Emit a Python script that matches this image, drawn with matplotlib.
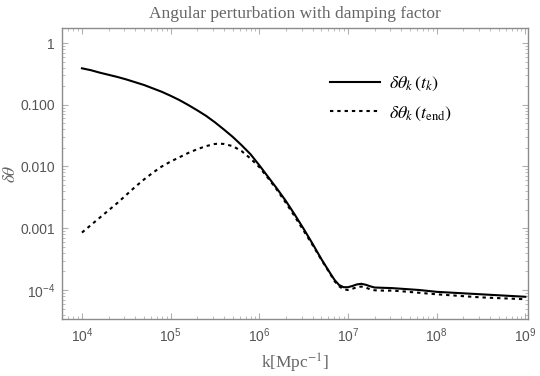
import numpy as np
import matplotlib
matplotlib.use("Agg")
import matplotlib.pyplot as plt
from matplotlib.ticker import LogLocator, FixedLocator, NullFormatter

# ---- data (log10 k, log10 delta theta) ----
logk_tk = [4.0, 4.1, 4.2, 4.3, 4.4, 4.5, 4.6, 4.7, 4.8, 4.9, 5.0, 5.1, 5.2,
           5.3, 5.4, 5.5, 5.6, 5.7, 5.8, 5.9, 6.0, 6.1, 6.2, 6.3, 6.4, 6.5,
           6.6, 6.7, 6.8, 6.85, 6.9, 6.95, 7.0, 7.05, 7.1, 7.15, 7.2, 7.25,
           7.3, 7.4, 7.5, 7.6, 7.8, 8.0, 8.25, 8.5, 8.75, 9.0]
logy_tk = [-0.41, -0.44, -0.48, -0.515, -0.55, -0.59, -0.635, -0.68, -0.735,
           -0.79, -0.855, -0.925, -1.005, -1.09, -1.18, -1.285, -1.40, -1.52,
           -1.655, -1.80, -1.98, -2.17, -2.36, -2.56, -2.78, -3.01, -3.25,
           -3.50, -3.73, -3.84, -3.92, -3.955, -3.955, -3.935, -3.91, -3.90,
           -3.915, -3.94, -3.96, -3.965, -3.97, -3.98, -4.00, -4.03, -4.05,
           -4.07, -4.09, -4.11]

logk_end = [4.0, 4.1, 4.2, 4.3, 4.4, 4.5, 4.6, 4.7, 4.8, 4.9, 5.0, 5.1, 5.2,
            5.3, 5.4, 5.5, 5.55, 5.6, 5.7, 5.8, 5.9, 6.0, 6.1, 6.2, 6.3, 6.4,
            6.5, 6.6, 6.7, 6.8, 6.85, 6.9, 6.95, 7.0, 7.05, 7.1, 7.15, 7.2,
            7.25, 7.3, 7.4, 7.5, 7.6, 7.8, 8.0, 8.25, 8.5, 8.75, 9.0]
logy_end = [-3.07, -2.95, -2.83, -2.71, -2.59, -2.46, -2.33, -2.21, -2.10,
            -2.00, -1.92, -1.85, -1.78, -1.72, -1.67, -1.635, -1.63, -1.635,
            -1.67, -1.75, -1.87, -2.01, -2.19, -2.38, -2.59, -2.81, -3.04,
            -3.27, -3.51, -3.74, -3.86, -3.94, -3.99, -4.00, -3.98, -3.955,
            -3.945, -3.96, -3.99, -4.005, -4.01, -4.01, -4.02, -4.045, -4.07,
            -4.095, -4.12, -4.135, -4.15]

k_tk = 10.0 ** np.array(logk_tk)
theta_tk = 10.0 ** np.array(logy_tk)
k_end = 10.0 ** np.array(logk_end)
theta_end = 10.0 ** np.array(logy_end)

xtick_vals = [1e4, 1e5, 1e6, 1e7, 1e8, 1e9]
xtick_labels = [r"$10^{4}$", r"$10^{5}$", r"$10^{6}$", r"$10^{7}$", r"$10^{8}$", r"$10^{9}$"]
ytick_vals = [1, 0.1, 0.01, 0.001, 1e-4]
ytick_labels = ["1", "0.100", "0.010", "0.001", r"$10^{-4}$"]

title = "Angular perturbation with damping factor"
label_tk = r"$\delta\theta_k\,(t_k)$"
label_end = r"$\delta\theta_k\,(t_{\rm end})$"

# ---- styling ----
plt.rcParams["mathtext.fontset"] = "custom"
plt.rcParams["mathtext.rm"] = "Liberation Sans"
plt.rcParams["mathtext.it"] = "Liberation Sans:italic"
plt.rcParams["font.family"] = ["Liberation Sans", "DejaVu Sans"]

fig = plt.figure(figsize=(5.4, 3.76), dpi=100)
ax = fig.add_axes([62/540, 1-319/376, (528-62)/540, (319-28)/376])

ax.plot(k_tk, theta_tk, color="black", lw=1.5, label=label_tk)
ax.plot(k_end, theta_end, color="black", lw=1.5, linestyle=(0, (1.6, 1.9)), label=label_end)

ax.set_xscale("log")
ax.set_yscale("log")
ax.set_xlim(10**3.775, 10**9.03)
ax.set_ylim(10**-4.47, 10**0.243)

ax.xaxis.set_major_locator(FixedLocator(xtick_vals))
ax.set_xticklabels(xtick_labels)
ax.yaxis.set_major_locator(FixedLocator(ytick_vals))
ax.set_yticklabels(ytick_labels)
ax.xaxis.set_minor_locator(LogLocator(base=10, subs=np.arange(2, 10), numticks=20))
ax.yaxis.set_minor_locator(LogLocator(base=10, subs=np.arange(2, 10), numticks=20))
ax.xaxis.set_minor_formatter(NullFormatter())
ax.yaxis.set_minor_formatter(NullFormatter())

tick_gray = "#b0b0b0"
ax.tick_params(which="both", direction="in", top=True, right=True,
               color=tick_gray, labelcolor="#555555", labelsize=10)
ax.tick_params(which="major", length=4.5, width=0.8, pad=5)
ax.tick_params(which="minor", length=2.5, width=0.6)
for s in ax.spines.values():
    s.set_color("#8c8c8c")
    s.set_linewidth(1.0)

ax.set_title(title, family="Liberation Serif", fontsize=12.5, color="#666666", pad=7)
ax.set_xlabel(r"k[Mpc$^{-1}$]", family="Liberation Serif", fontsize=12.5,
              color="#666666", math_fontfamily="stix", labelpad=5)
ax.set_ylabel(r"$\delta\theta$", fontsize=12.5, color="#666666",
              math_fontfamily="stix", labelpad=2)

leg = ax.legend(loc="upper left", bbox_to_anchor=(0.54, 0.895), frameon=False,
                fontsize=13, handlelength=2.8, handletextpad=0.5, labelspacing=0.65)
for t in leg.get_texts():
    t.set_math_fontfamily("stix")

fig.savefig("out.png", dpi=100)
